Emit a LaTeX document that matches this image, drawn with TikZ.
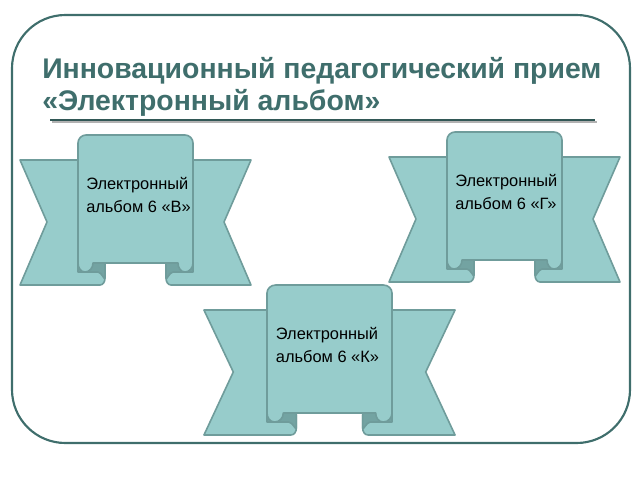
\documentclass[tikz,border=0pt]{standalone}
\usepackage{fontspec}
\setmainfont{Liberation Sans}
\definecolor{frame}{HTML}{3F6E6C}
\definecolor{ban}{HTML}{97CCCB}
\definecolor{banline}{HTML}{6F9C9B}
\definecolor{fold}{HTML}{73A3A2}
\tikzset{bn/.style={fill=ban,draw=banline,line width=1.2pt,line join=round},
 fd/.style={fill=fold,draw=banline,line width=1.2pt,line join=round},
 lbl/.style={align=left,font=\fontsize{12.3}{17}\selectfont,inner sep=0pt}}
\newcommand{\mybanner}[4]{%
\begin{scope}[shift={#1},xscale=#4]
 \path[bn] (-58,25)--(-31,87)--(-58,150)--(22,150) to[out=0,in=-90] (27,143) -- (27,130) -- (0,130) -- (0,25) -- cycle;
 \path[bn] (173,25)--(146,87)--(173,150)--(93,150) to[out=180,in=-90] (88,143) -- (88,130) -- (115,130) -- (115,25) -- cycle;
 \path[fd] (0,137) -- (0,130) to[out=-90,in=180] (8,124) -- (27,124) -- (27,143) to[out=-90,in=0] (20,137) -- cycle;
 \path[fd] (115,137) -- (115,130) to[out=-90,in=0] (107,124) -- (88,124) -- (88,143) to[out=-90,in=180] (95,137) -- cycle;
 \path[bn] (0,128) -- (0,8) to[out=90,in=180] (8,0) -- (107,0) to[out=0,in=90] (115,8) -- (115,128) to[out=-90,in=0] (107,137) to[out=180,in=-90] (100,128)-- (15,128) to[out=-90,in=0] (7,137) to[out=180,in=-90] cycle;
 \node[lbl,anchor=west] (#3) at (8,60) {#2};
\end{scope}}
\begin{document}
\begin{tikzpicture}[x=0.75pt,y=-0.75pt]
\useasboundingbox (0,0) rectangle (640,480);
\draw[frame,line width=1.6pt,rounded corners=40] (12,15) rectangle (630,443);
\node[anchor=west,inner sep=0pt,text=frame,font=\fontsize{21.3}{24.5}\selectfont\bfseries,align=left] (title) at (42,87) {Инновационный педагогический прием\\«Электронный альбом»};
\draw[gray!60,line width=1.5pt] (52,122) -- (597,122);
\draw[frame!80!black,line width=1.5pt] (50,120) -- (595,120);
\mybanner{(78,135)}{Электронный\\альбом 6 «В»}{b1}{1}
\mybanner{(447,132)}{Электронный\\альбом 6 «Г»}{b2}{1}
\mybanner{(267,285)}{Электронный\\альбом 6 «К»}{b3}{1.087}
\end{tikzpicture}
\end{document}
